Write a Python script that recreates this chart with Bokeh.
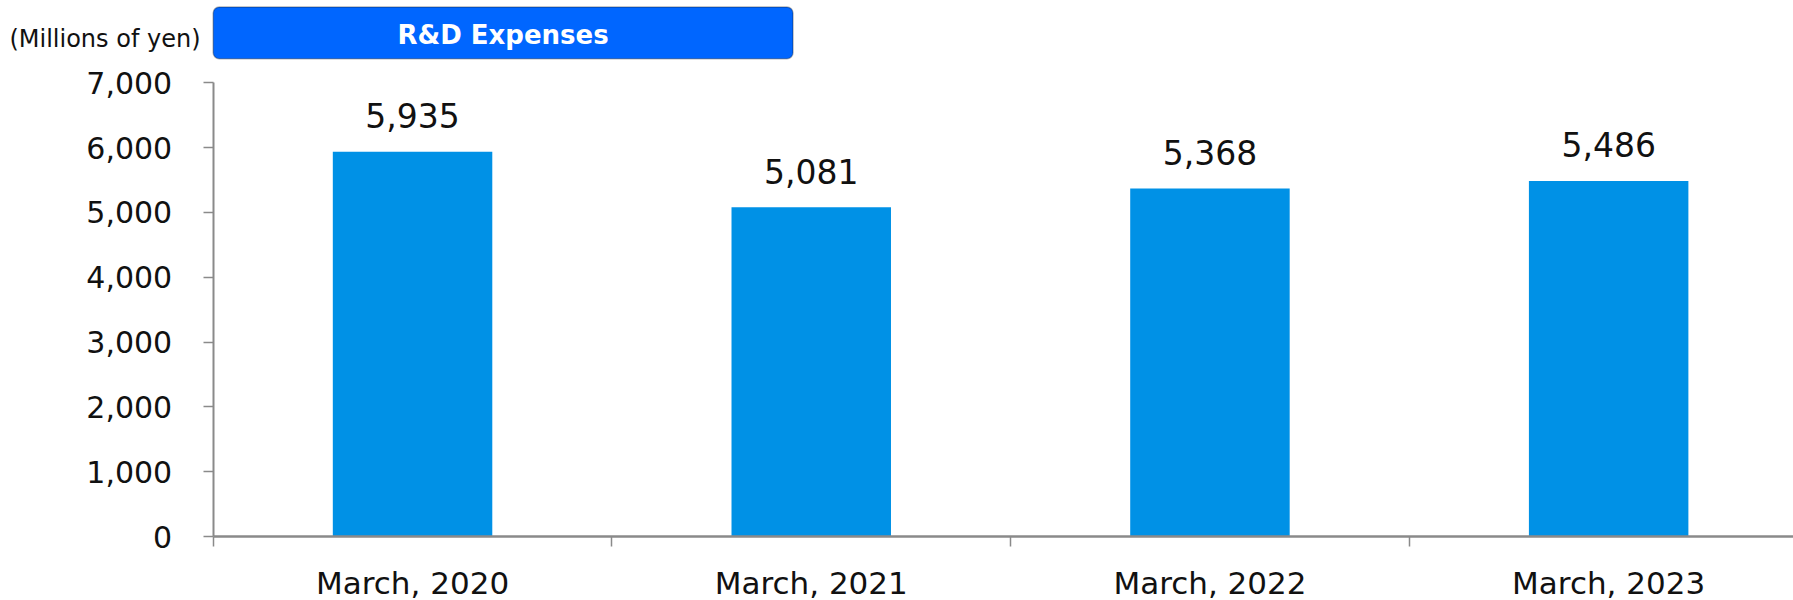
from bokeh.plotting import figure
from bokeh.models import (Range1d, FixedTicker, NumeralTickFormatter, BoxAnnotation, Label)
from bokeh.core.properties import value
from bokeh.embed import file_html
from bokeh.resources import INLINE

categories = ["March, 2020", "March, 2021", "March, 2022", "March, 2023"]
rd_expenses = [5935, 5081, 5368, 5486]
y_ticks = [0, 1000, 2000, 3000, 4000, 5000, 6000, 7000]
title_text = "R&D Expenses"
unit_text = "(Millions of yen)"

FONT = "DejaVu Sans"
AXIS_GREY = "#8a8a8a"
BAR_BLUE = "#0091E6"
BOX_BLUE = "#0066FF"

W, H = 1793, 600
# pixel geometry
zero_py, top_py = 536.0, 82.3
axis_px = 212.7
px_per_unit = (zero_py - top_py) / 7000.0
cat_px = 398.7
y_start = -(H - zero_py) / px_per_unit
y_end = zero_py / px_per_unit
x_start = -axis_px / cat_px
x_end = (W - axis_px) / cat_px

p = figure(width=W, height=H, output_backend="svg", toolbar_location=None,
           x_range=Range1d(x_start, x_end), y_range=Range1d(y_start, y_end),
           min_border_left=0, min_border_right=0,
           min_border_top=0, min_border_bottom=0)
p.outline_line_color = None
p.xgrid.visible = False
p.ygrid.visible = False
p.background_fill_color = "white"

xs = [i + 0.5 for i in range(len(categories))]
p.vbar(x=xs, top=rd_expenses, width=0.40, bottom=0, fill_color=BAR_BLUE, line_color=None)

label_off = 36 / px_per_unit
p.text(x=xs, y=[v + label_off for v in rd_expenses], text=[f"{v:,}" for v in rd_expenses],
       text_align="center", text_baseline="alphabetic", text_font=value(FONT),
       text_font_size="33px", text_color="#111111")

# x axis
xa = p.xaxis[0]
xa.fixed_location = 0
xa.bounds = (0, x_end)
xa.ticker = FixedTicker(ticks=xs, minor_ticks=list(range(len(categories) + 1)))
xa.major_label_overrides = {x: c for x, c in zip(xs, categories)}
xa.major_tick_line_color = None
xa.minor_tick_out = 10
xa.minor_tick_in = 0
xa.minor_tick_line_color = AXIS_GREY
xa.minor_tick_line_width = 1.5
xa.axis_line_color = AXIS_GREY
xa.axis_line_width = 2.5
xa.major_label_standoff = 18
xa.major_label_text_font = FONT
xa.major_label_text_font_size = "31px"
xa.major_label_text_color = "#111111"

# y axis
ya = p.yaxis[0]
ya.fixed_location = 0
ya.ticker = FixedTicker(ticks=y_ticks)
ya.formatter = NumeralTickFormatter(format="0,0")
ya.bounds = (0, 7000)
ya.major_tick_out = 10
ya.major_tick_in = 0
ya.major_tick_line_color = AXIS_GREY
ya.major_tick_line_width = 1.5
ya.minor_tick_line_color = None
ya.axis_line_color = AXIS_GREY
ya.axis_line_width = 2
ya.major_label_standoff = 31
ya.major_label_text_font = FONT
ya.major_label_text_font_size = "30px"
ya.major_label_text_color = "#111111"

def py_to_y(py):
    return 7000 + (top_py - py) / px_per_unit

def px_to_x(px):
    return (px - axis_px) / cat_px

box = BoxAnnotation(left=0, right=px_to_x(792.5), bottom=py_to_y(58.3), top=py_to_y(6.5),
                    fill_color=BOX_BLUE, fill_alpha=1.0, line_color="#111111",
                    line_width=1.5, border_radius=6)
p.add_layout(box)
p.add_layout(Label(x=px_to_x(792.5) / 2, y=py_to_y(34), text=title_text, text_align="center",
                   text_baseline="middle", text_color="white", text_font_style="bold",
                   text_font=FONT, text_font_size="26px"))
p.add_layout(Label(x=px_to_x(200), y=py_to_y(38), text=unit_text, text_align="right",
                   text_baseline="middle", text_color="#111111",
                   text_font=FONT, text_font_size="24px"))

open("out.html", "w").write(file_html(p, INLINE))
